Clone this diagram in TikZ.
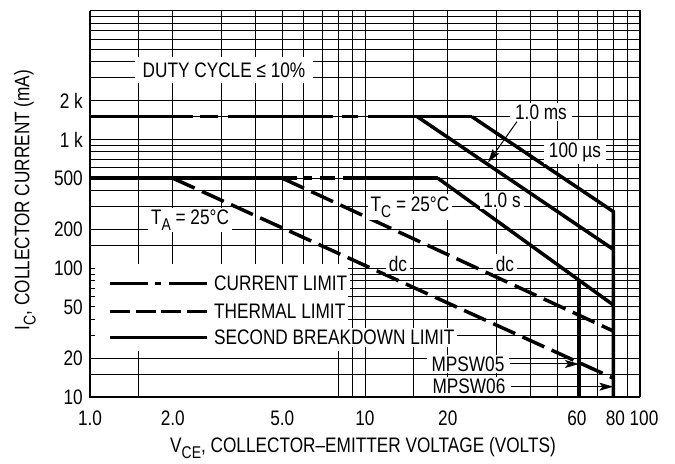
\documentclass[tikz,border=0pt]{standalone}
\usepackage{fontspec}
\setmainfont{Liberation Sans}[FakeStretch=0.82]
\usepackage{tikz}
\usetikzlibrary{arrows.meta, positioning}

\tikzset{
    grid line/.style={line width=1pt},
    limit/.style={line width=3.5pt},
    thermal/.style={limit, dash pattern=on 24pt off 8pt},
    current/.style={limit, dash pattern=on 38pt off 7.5pt on 6pt off 7.5pt},
    thermal key/.style={limit, dash pattern=on 20pt off 5.7pt},
    lbl/.style={fill=white, inner xsep=5pt, inner ysep=2pt},
    tick lbl/.style={inner sep=2pt},
    pointer/.style={line width=1pt, -{Stealth[length=14pt,width=8pt,inset=3pt]}},
}
\newcommand\lowsub[1]{\raisebox{-0.3em}{\fontsize{17}{17}\selectfont #1}}

\begin{document}
\begin{tikzpicture}[x=275pt, y=128.8pt, font=\fontsize{21}{25}\selectfont]
    \useasboundingbox (-0.3273,0.4798) rectangle (2.1273,4.0823);

    % grid, x = log10(V), y = log10(I/mA)
    \foreach \v in {1.5,8,9,10,15,20,30,40,50,60,70,80,90}
        \draw[grid line] ({log10(\v)},1) -- ({log10(\v)},4);
    \foreach \v in {2,3,4,5,6,7}
        \draw[grid line] ({log10(\v)},2) -- ({log10(\v)},4);
    \foreach \e in {1,2,3}
        \foreach \m in {1.5,2,3,4,5,6,7,8,9}
            \draw[grid line] (0,{\e+log10(\m)}) -- (2,{\e+log10(\m)});
    \foreach \e in {2,3}
        \draw[grid line] (0,\e) -- (2,\e);

    % legend area
    \fill[white] (0.0182,1.357) rectangle (0.9382,2.0326);

    % pulsed limits
    \draw[limit, dash pattern=on 103pt off 7pt on 18pt off 10pt on 105pt off 9pt on 16pt off 10pt on 200pt off 0pt]
        (0,{log10(1500)}) -- ({log10(24.5)},{log10(1500)});
    \draw[limit] ({log10(15.5)},{log10(1500)}) -- ({log10(80)},{log10(140)});
    \draw[limit] ({log10(24.5)},{log10(1500)}) -- ({log10(80)},{log10(275)}) -- ({log10(80)},1);

    % dc limits
    \draw[limit, dash pattern=on 207pt off 6pt on 9pt off 8pt on 15pt off 8pt on 200pt off 0pt]
        (0,{log10(500)}) -- ({log10(18.4)},{log10(500)});
    \draw[limit] ({log10(18.4)},{log10(500)}) -- ({log10(80)},{log10(51.8)});
    \draw[limit] ({log10(60)},{log10(80.8)}) -- ({log10(60)},1);
    \draw[thermal] ({log10(2)},{log10(500)}) -- ({log10(80)},{log10(14)});
    \draw[thermal] ({log10(5)},{log10(500)}) -- ({log10(80)},{log10(32.5)});

    % legend
    \foreach \n/\y/\s/\t in {1/1.8828/current/CURRENT LIMIT,
                             2/1.6623/thermal key/THERMAL LIMIT,
                             3/1.4635/limit/SECOND BREAKDOWN LIMIT}
    {
        \draw[\s] (0.0727,\y) -- (0.4255,\y) coordinate (key\n);
        \node[lbl, inner xsep=3pt, right=4pt of key\n] (keytext\n) {\t};
    }

    % labels
    \node[lbl, inner xsep=8pt, inner ysep=6pt] (duty) at (0.4873,3.5388) {DUTY CYCLE ≤ 10\%};
    \node[lbl] (ms) at (1.64,3.2127) {1.0 ms};
    \node[lbl] (us) at (1.7636,2.9022) {100 µs};
    \node[lbl, inner xsep=3pt] (sec) at (1.4982,2.5295) {1.0 s};
    \node[lbl, inner xsep=3pt] (tc) at (1.1636,2.4752) {T\lowsub{C} = 25°C};
    \node[lbl, inner xsep=3pt] (ta) at (0.3636,2.3742) {T\lowsub{A} = 25°C};
    \node[lbl, inner xsep=3pt] (dcl) at (1.12,2.0326) {dc};
    \node[lbl, inner xsep=3pt] (dcr) at (1.5091,2.0326) {dc};
    \node[lbl] (m05) at (1.3745,1.2562) {MPSW05};
    \node[lbl] (m06) at (1.3782,1.08) {MPSW06};

    % arrows
    \coordinate (mspt) at (1.4473,2.8207);
    \coordinate (v60) at ({log10(60)},1);
    \coordinate (v80) at ({log10(80)},1);
    \draw[pointer] ([xshift=7pt]ms.south west) -- (mspt);
    \draw[pointer] (m05.east) -- (m05.east -| v60);
    \draw[pointer] (m06.east) -- (m06.east -| v80);

    % frame
    \draw[line width=1.4pt] (0,4) -- (2,4) -- (2,1);
    \draw[line width=2.7pt] (0,4) -- (0,1) -- (2,1);

    % tick labels
    \foreach \i/\t in {10/10,20/20,50/50,100/100,200/200,500/500,1000/1 k,2000/2 k}
        \node[tick lbl, left=5pt] (y\i) at (0,{log10(\i)}) {\t};
    \foreach \v/\t/\s in {1/1.0/0,2/2.0/0,5/5.0/0,10/10/0,20/20/0,60/60/-2,80/80/2,100/100/4}
        \node[tick lbl, below=12pt, xshift=\s pt] (x\v) at ({log10(\v)},1) {\t};

    % axis titles
    \node[rotate=90] (ytitle) at (-0.2364,2.5295) {I\lowsub{C}, COLLECTOR CURRENT (mA)};
    \node (xtitle) at (0.9927,0.604) {V\lowsub{CE}, COLLECTOR–EMITTER VOLTAGE (VOLTS)};
\end{tikzpicture}
\end{document}
